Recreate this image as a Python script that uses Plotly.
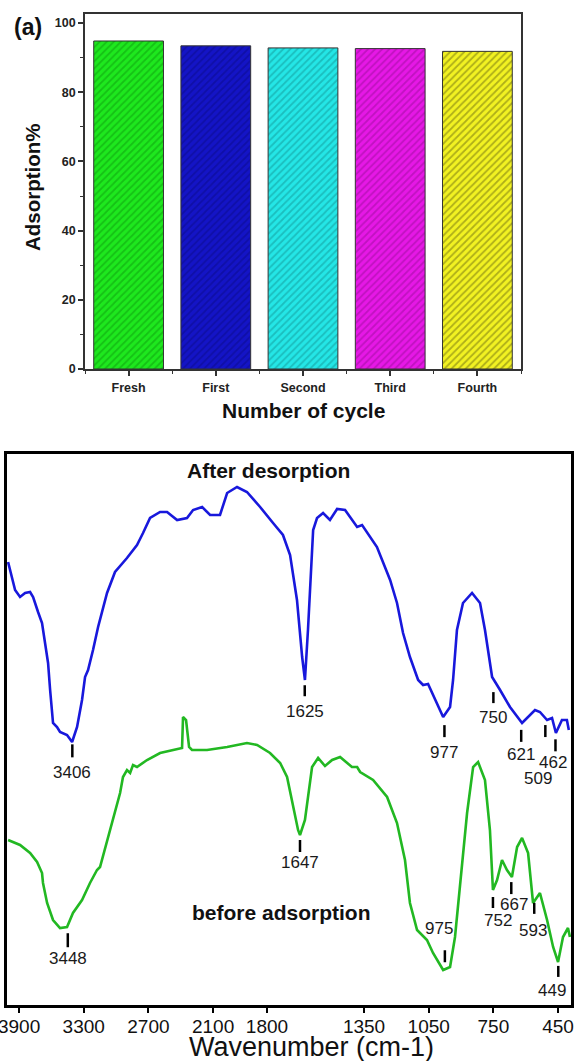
import numpy as np
import plotly.graph_objects as go

W, H = 576, 1061

# ---------------- data: panel (a) ----------------
cycles = ["Fresh", "First", "Second", "Third", "Fourth"]
adsorption = [94.8, 93.4, 92.8, 92.6, 91.8]

# ---------------- data: FTIR spectra ----------------
after_wn = [4002, 3984, 3937, 3891, 3844, 3798, 3770, 3724, 3687, 3659, 3631, 3612, 3585, 3548,
            3520, 3455, 3408, 3362, 3316, 3288, 3260, 3214, 3167, 3084, 3010, 2899, 2806, 2750,
            2685, 2592, 2527, 2434, 2342, 2286, 2202, 2128, 2036, 1985, 1939, 1893, 1832, 1772,
            1726, 1693, 1661, 1637, 1624, 1610, 1586, 1568, 1540, 1508, 1475, 1438, 1382, 1359,
            1290, 1229, 1197, 1169, 1137, 1099, 1076, 1053, 1011, 983, 951, 937, 919, 891, 849,
            812, 789, 756, 719, 673, 617, 589, 557, 534, 501, 478, 460, 432, 409, 400]
after_T = [443, 435, 415, 408, 412, 413, 408, 393, 382, 362, 342, 315, 282, 278,
           273, 270, 263, 278, 305, 328, 335, 355, 378, 412, 433, 447, 460, 472,
           487, 493, 493, 485, 487, 495, 498, 490, 490, 512, 518, 513, 498, 482,
           470, 450, 405, 348, 325, 375, 475, 487, 492, 485, 496, 495, 478, 480,
           458, 425, 402, 372, 348, 325, 320, 321, 302, 288, 298, 325, 375, 402, 412,
           402, 375, 328, 315, 298, 282, 288, 295, 293, 285, 287, 272, 285, 285, 275]

before_wn = [4002, 3956, 3891, 3798, 3733, 3687, 3678, 3640, 3585, 3520, 3455, 3400, 3316, 3242,
             3177, 3149, 3056, 2963, 2936, 2899, 2870, 2843, 2806, 2713, 2592, 2471, 2388, 2379,
             2351, 2323, 2296, 2156, 1985, 1893, 1846, 1786, 1739, 1707, 1679, 1656, 1647, 1624,
             1591, 1563, 1531, 1498, 1461, 1406, 1382, 1368, 1308, 1243, 1197, 1160, 1137, 1104,
             1058, 1030, 983, 951, 928, 905, 872, 844, 821, 789, 766, 752, 733, 710, 687, 664,
             640, 617, 589, 566, 534, 501, 473, 450, 427, 404, 395]
before_T = [165, 163, 160, 152, 143, 132, 122, 102, 85, 77, 78, 92, 105, 122,
            135, 138, 175, 212, 228, 235, 232, 240, 238, 245, 252, 255, 257, 288,
            285, 258, 255, 255, 258, 262, 260, 252, 242, 228, 198, 175, 170, 185,
            238, 247, 239, 245, 248, 238, 238, 233, 225, 208, 182, 145, 102, 75,
            65, 52, 35, 38, 68, 118, 192, 238, 243, 225, 175, 115, 125, 145, 135, 128,
            158, 167, 152, 102, 112, 85, 58, 43, 68, 77, 68]

after_peaks = [3406, 1625, 977, 750, 621, 509, 462]
before_peaks = [3448, 1647, 975, 752, 667, 593, 449]

wn_ticks = [3900, 3300, 2700, 2100, 1800, 1350, 1050, 750, 450]

# ---------------- styles ----------------
bar_colors = ["#1ee81e", "#1414c6", "#24e6e6", "#e618e6", "#f2f222"]
hatch_colors = ["#0c9a0c", "#0a0a88", "#129696", "#9a0c9a", "#6a6a10"]
blue = "#1818dc"
green = "#22b822"
FONT = "Liberation Sans, Arial, sans-serif"

# tick (top, bottom) offsets from curve, label centre offset, label x shift (px)
after_style = [(-3, -16, -31, 0), (-7, -18, -33, 0), (-10, -22, -37, 0), (-13, -24, -38, 0),
               (-8, -20, -33, 0), (-7, -19, -60, -7), (-8, -20, -31, -2)]
before_style = [(-8, -22, -33, 0), (-5, -17, -27, 0), (7, 19, 41, -6), (-7, -18, -30, 5),
                (-6, -18, -28, 3), (-52, -63, -80, 6), (-5, -16, -30, -6)]
before_tick_dx = [0, 0, 0, 0, 0, 7, 0]


def brk(w):
    """axis scale: region above 2000 cm-1 compressed by a factor of 2"""
    w = np.asarray(w, dtype=float)
    return np.where(w <= 2000, w, 2000 + (w - 2000) / 2)


def pxx(x):
    return x / W


def pxy(y):
    return 1 - y / H


fig = go.Figure()

# ---- panel (a): bars ----
for i, (c, v) in enumerate(zip(cycles, adsorption)):
    fig.add_trace(go.Bar(
        x=[i], y=[v], width=0.8, xaxis="x", yaxis="y", showlegend=False,
        marker=dict(color=bar_colors[i], line=dict(color="#333333", width=1),
                    pattern=dict(shape="/", fgcolor=hatch_colors[i], size=5,
                                 solidity=0.35, fillmode="overlay")),
        name=c))

# ---- panel (b): spectra ----
fig.add_trace(go.Scatter(x=brk(after_wn), y=after_T, mode="lines", xaxis="x2", yaxis="y2",
                         line=dict(color=blue, width=2.6), showlegend=False))
fig.add_trace(go.Scatter(x=brk(before_wn), y=before_T, mode="lines", xaxis="x2", yaxis="y2",
                         line=dict(color=green, width=2.6), showlegend=False))

shapes = []
annotations = []


def add_peaks(peaks, wn, T, styles, tick_dx=None):
    order = np.argsort(wn)
    xs = np.asarray(wn, float)[order]
    ys = np.asarray(T, float)[order]
    for k, p in enumerate(peaks):
        yc = float(np.interp(p, xs, ys))
        t0, t1, lab, dx = styles[k]
        tdx = tick_dx[k] if tick_dx else 0
        shapes.append(dict(type="line", xref="x2", yref="y2",
                           xsizemode="pixel", ysizemode="pixel",
                           xanchor=float(brk(p)), yanchor=yc,
                           x0=tdx, x1=tdx, y0=t0, y1=t1,
                           line=dict(color="black", width=2.5)))
        annotations.append(dict(x=float(brk(p)), y=yc, xref="x2", yref="y2",
                                text=str(p), showarrow=False, xshift=dx, yshift=lab,
                                xanchor="center", yanchor="middle",
                                font=dict(family=FONT, size=17, color="#1a1a1a")))


add_peaks(after_peaks, after_wn, after_T, after_style)
add_peaks(before_peaks, before_wn, before_T, before_style, before_tick_dx)


def label(text, x, y, size, bold=True, angle=0):
    f = dict(family=FONT, size=size, color="#111")
    if bold:
        f["weight"] = "bold"
    return dict(text=text, x=pxx(x), y=pxy(y), xref="paper", yref="paper", showarrow=False,
                xanchor="center", yanchor="middle", textangle=angle, font=f)


annotations += [
    label("(a)", 28, 27, 23),
    label("Adsorption%", 33, 187, 20.5, angle=-90),
    label("Number of cycle", 303, 410, 21),
    label("After desorption", 268, 470, 21),
    label("before adsorption", 281, 912, 21),
    label("Wavenumber (cm-1)", 311, 1047, 27, bold=False),
]

fig.update_layout(
    width=W, height=H, margin=dict(l=0, r=0, t=0, b=0, autoexpand=False),
    paper_bgcolor="white", plot_bgcolor="white",
    bargap=0.2,
    xaxis=dict(domain=[pxx(85), pxx(521)], anchor="y", range=[-0.5, 4.5], automargin=False,
               tickvals=list(range(len(cycles))), ticktext=cycles,
               showline=True, linecolor="#333", linewidth=1.6, mirror=True,
               ticks="outside", ticklen=5, tickwidth=1.5, tickcolor="#333",
               minor=dict(tick0=0.5, dtick=1, ticks="outside", ticklen=3, tickwidth=1, tickcolor="#333"),
               showgrid=False, zeroline=False, ticklabelstandoff=1,
               tickfont=dict(family=FONT, size=12.5, color="#222", weight="bold")),
    yaxis=dict(domain=[pxy(369), pxy(14)], anchor="x", range=[0, 102.6], automargin=False,
               tickvals=[0, 20, 40, 60, 80, 100],
               showline=True, linecolor="#333", linewidth=1.6, mirror=True,
               ticks="outside", ticklen=5, tickwidth=1.5, tickcolor="#333",
               minor=dict(dtick=10, ticks="outside", ticklen=3, tickwidth=1, tickcolor="#333"),
               showgrid=False, zeroline=False,
               tickfont=dict(family=FONT, size=12.5, color="#222", weight="bold")),
    xaxis2=dict(domain=[pxx(7), pxx(571)], anchor="y2", automargin=False,
                range=[float(brk(4012)), float(brk(390))],
                tickvals=[float(v) for v in brk(wn_ticks)], ticktext=[str(t) for t in wn_ticks],
                showline=True, linecolor="black", linewidth=2.5, mirror=True,
                ticks="outside", ticklen=5, tickwidth=2, tickcolor="black",
                showgrid=False, zeroline=False, ticklabelstandoff=-3,
                ticklabeloverflow="allow",
                tickfont=dict(family=FONT, size=19, color="#111")),
    yaxis2=dict(domain=[pxy(1005), pxy(454)], anchor="x2", range=[0, 551], automargin=False,
                showline=True, linecolor="black", linewidth=2.5, mirror=True,
                showticklabels=False, ticks="", showgrid=False, zeroline=False),
    shapes=shapes, annotations=annotations,
)

fig.write_html("out.html")
